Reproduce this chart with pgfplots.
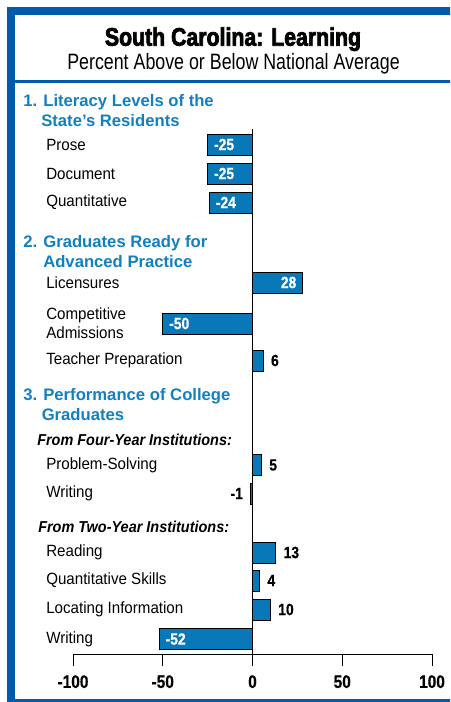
\documentclass[border=0pt]{standalone}
\usepackage{pgfplots}
\pgfplotsset{compat=1.18}
\usepackage{fontspec}
\setmainfont{Liberation Sans}
\newfontfamily\titlefont[FakeStretch=0.84,FakeBold=2.8]{Liberation Sans}
\newfontfamily\subtfont[FakeStretch=0.80]{Liberation Sans}
\newfontfamily\catfont[FakeStretch=0.93]{Liberation Sans}
\newfontfamily\numfont[FakeStretch=0.85,FakeBold=0.6]{Liberation Sans}
\newfontfamily\subhfont[FakeStretch=0.915]{Liberation Sans}
\definecolor{frameblue}{RGB}{0,92,170}
\definecolor{barblue}{RGB}{8,120,185}
\definecolor{headblue}{RGB}{18,128,192}
\begin{document}
\begin{tikzpicture}[x=0.75pt,y=-0.75pt]
\useasboundingbox (0,0) rectangle (450,702);
\clip (0,0) rectangle (450,702);
% frame
\draw[frameblue, line width=6pt] (11,11) -- (460,11);
\draw[frameblue, line width=6pt] (11,7) -- (11,710);
\draw[frameblue, line width=6pt] (7,703) -- (460,703);
\draw[frameblue, line width=2.25pt] (15,81.5) -- (460,81.5);
% titles
\node[anchor=base, inner sep=0pt] at (233,45.7) {\titlefont\bfseries\fontsize{19}{20}\selectfont South Carolina: Learning};
\node[anchor=base, inner sep=0pt] at (233.5,70) {\subtfont\fontsize{16.7}{18}\selectfont Percent Above or Below National Average};
% section headings
\begin{scope}[every node/.style={anchor=base west, inner sep=0pt, text=headblue, font=\bfseries\fontsize{12.5}{14}\selectfont}]
\node at (23,107) {1. Literacy Levels of the};
\node at (41,127) {State{\char39}s Residents};
\node at (23,247) {2. Graduates Ready for};
\node at (43,267) {Advanced Practice};
\node at (23,400) {3. Performance of College};
\node at (41.5,420) {Graduates};
\end{scope}
\begin{scope}[every node/.style={anchor=base west, inner sep=0pt, font=\subhfont\bfseries\itshape\fontsize{11.85}{14}\selectfont}]
\node at (37,445) {From Four-Year Institutions:};
\node at (38,532) {From Two-Year Institutions:};
\end{scope}
\begin{axis}[
  at={(54.75pt,-490.5pt)}, anchor=south west,
  scale only axis, width=269.25pt, height=394.5pt,
  xmin=-100, xmax=100, ymin=128, ymax=654, y dir=reverse,
  clip=false,
  axis line style={draw=none},
  xtick={-100,-50,0,50,100},
  xticklabels={-100,-50,0,50,100},
  xtick pos=bottom,
  tick align=outside,
  major tick length=9pt,
  xtick style={black, line width=0.75pt},
  xticklabel style={anchor=north, inner sep=0pt, yshift=-6.75pt, font=\numfont\bfseries\fontsize{13.6}{15}\selectfont},
  ytick={144.5,173.5,202.5,282.5,323.5,360.5,465,493,552.5,580.5,609.5,639},
  yticklabels={Prose,Document,Quantitative,Licensures,{Competitive\\Admissions},Teacher Preparation,Problem-Solving,Writing,Reading,Quantitative Skills,Locating Information,Writing},
  ytick pos=left,
  ytick style={draw=none},
  yticklabel style={anchor=west, inner sep=0pt, xshift=-11.25pt, align=left, font=\catfont\fontsize{12.2}{14.25}\selectfont},
  point meta=explicit symbolic,
]
\addplot[black, line width=0.75pt] coordinates {(-100,654) (100,654)};
\addplot[black, line width=0.75pt] coordinates {(0,129) (0,654)};
% inside labels, negative
\addplot[xbar, bar width=21, bar shift=0pt, fill=barblue, draw=black, line width=0.75pt,
  nodes near coords, nodes near coords style={anchor=west, xshift=4.5pt, inner sep=0pt, text=white, font=\numfont\bfseries\fontsize{12.2}{14}\selectfont}]
  coordinates {(-25,144.5) [-25] (-25,173.5) [-25] (-24,202.5) [-24] (-50,323.5) [-50] (-52,639) [-52]};
% inside label, positive
\addplot[xbar, bar width=21, bar shift=0pt, fill=barblue, draw=black, line width=0.75pt,
  nodes near coords, nodes near coords style={anchor=east, xshift=-4.5pt, inner sep=0pt, text=white, font=\numfont\bfseries\fontsize{12.2}{14}\selectfont}]
  coordinates {(28,282.5) [28]};
% outside labels, positive
\addplot[xbar, bar width=21, bar shift=0pt, fill=barblue, draw=black, line width=0.75pt,
  nodes near coords, nodes near coords style={anchor=west, xshift=5.5pt, inner sep=0pt, text=black, font=\numfont\bfseries\fontsize{12.2}{14}\selectfont}]
  coordinates {(6,360.5) [6] (5,465) [5] (13,552.5) [13] (4,580.5) [4] (10,609.5) [10]};
% outside label, negative
\addplot[xbar, bar width=21, bar shift=0pt, fill=barblue, draw=black, line width=0.75pt,
  nodes near coords, nodes near coords style={anchor=east, xshift=-5.5pt, inner sep=0pt, text=black, font=\numfont\bfseries\fontsize{12.2}{14}\selectfont}]
  coordinates {(-1,493.5) [-1]};
\end{axis}
\end{tikzpicture}
\end{document}
